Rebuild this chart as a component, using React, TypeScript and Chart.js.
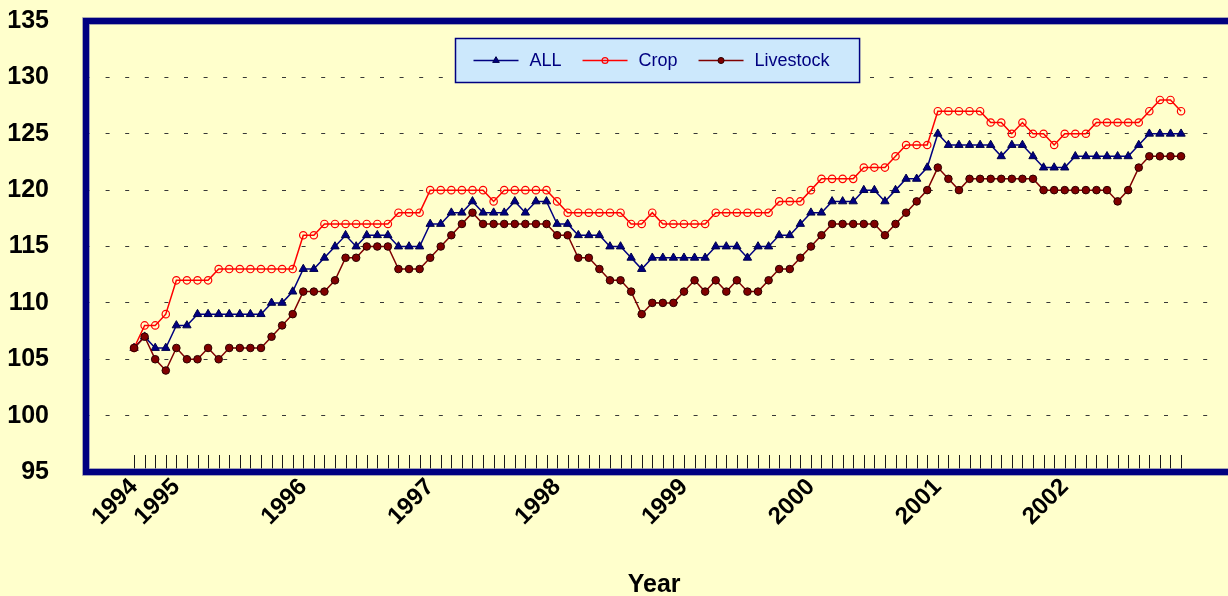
import React, { useEffect, useRef } from 'react';
import { Chart, registerables } from 'chart.js';
import { drawPoint } from 'chart.js/helpers';

Chart.register(...registerables);

// ---- data ----
const seriesNames = ['ALL', 'Crop', 'Livestock'];

const yearLabels = ['1994', '1995', '1996', '1997', '1998', '1999', '2000', '2001', '2002'];
// category (month) index where each year label sits
const yearTickAt = [0, 4, 16, 28, 40, 52, 64, 76, 88];

const yTickValues = [95, 100, 105, 110, 115, 120, 125, 130, 135];

const allValues = [
  106, 107, 106, 106, 108, 108, 109, 109, 109, 109,
  109, 109, 109, 110, 110, 111, 113, 113, 114, 115,
  116, 115, 116, 116, 116, 115, 115, 115, 117, 117,
  118, 118, 119, 118, 118, 118, 119, 118, 119, 119,
  117, 117, 116, 116, 116, 115, 115, 114, 113, 114,
  114, 114, 114, 114, 114, 115, 115, 115, 114, 115,
  115, 116, 116, 117, 118, 118, 119, 119, 119, 120,
  120, 119, 120, 121, 121, 122, 125, 124, 124, 124,
  124, 124, 123, 124, 124, 123, 122, 122, 122, 123,
  123, 123, 123, 123, 123, 124, 125, 125, 125, 125,
];

const cropValues = [
  106, 108, 108, 109, 112, 112, 112, 112, 113, 113,
  113, 113, 113, 113, 113, 113, 116, 116, 117, 117,
  117, 117, 117, 117, 117, 118, 118, 118, 120, 120,
  120, 120, 120, 120, 119, 120, 120, 120, 120, 120,
  119, 118, 118, 118, 118, 118, 118, 117, 117, 118,
  117, 117, 117, 117, 117, 118, 118, 118, 118, 118,
  118, 119, 119, 119, 120, 121, 121, 121, 121, 122,
  122, 122, 123, 124, 124, 124, 127, 127, 127, 127,
  127, 126, 126, 125, 126, 125, 125, 124, 125, 125,
  125, 126, 126, 126, 126, 126, 127, 128, 128, 127,
];

const livestockValues = [
  106, 107, 105, 104, 106, 105, 105, 106, 105, 106,
  106, 106, 106, 107, 108, 109, 111, 111, 111, 112,
  114, 114, 115, 115, 115, 113, 113, 113, 114, 115,
  116, 117, 118, 117, 117, 117, 117, 117, 117, 117,
  116, 116, 114, 114, 113, 112, 112, 111, 109, 110,
  110, 110, 111, 112, 111, 112, 111, 112, 111, 111,
  112, 113, 113, 114, 115, 116, 117, 117, 117, 117,
  117, 116, 117, 118, 119, 120, 122, 121, 120, 121,
  121, 121, 121, 121, 121, 121, 120, 120, 120, 120,
  120, 120, 120, 119, 120, 122, 123, 123, 123, 123,
];

// ---- styles ----
const FONT = '"Liberation Sans", Arial, Helvetica, sans-serif';
const BG = '#FFFFCC';
const NAVY = '#000080';
const LEGEND_FILL = '#CCE8FC';

const toPoints = (arr: number[]) => arr.map((v, i) => ({ x: i, y: v }));

const bgPlugin = {
  id: 'bgFill',
  beforeDraw(chart: any) {
    const { ctx, width, height } = chart;
    ctx.save();
    ctx.fillStyle = BG;
    ctx.fillRect(0, 0, width, height);
    ctx.restore();
  },
};

const framePlugin = {
  id: 'frame',
  beforeDatasetsDraw(chart: any) {
    const { ctx, chartArea } = chart;
    const { left, top, right, bottom } = chartArea;
    const xs = chart.scales.x;
    ctx.save();
    // inside tick marks along the category axis
    ctx.strokeStyle = '#1a1a1a';
    ctx.lineWidth = 1;
    ctx.beginPath();
    for (let i = 0; i < allValues.length; i++) {
      const px = Math.round(xs.getPixelForValue(i)) + 0.5;
      ctx.moveTo(px, bottom - 17);
      ctx.lineTo(px, bottom);
    }
    ctx.stroke();
    // plot area frame (left, top, bottom)
    ctx.lineJoin = 'miter';
    ctx.beginPath();
    ctx.moveTo(right + 20, top);
    ctx.lineTo(left, top);
    ctx.lineTo(left, bottom);
    ctx.lineTo(right + 20, bottom);
    ctx.strokeStyle = '#8a8aa8';
    ctx.lineWidth = 7.5;
    ctx.stroke();
    ctx.strokeStyle = NAVY;
    ctx.lineWidth = 6;
    ctx.stroke();
    ctx.restore();
  },
};

const legendPlugin = {
  id: 'boxLegend',
  afterDatasetsDraw(chart: any) {
    const { ctx, chartArea } = chart;
    const datasets = chart.data.datasets;
    ctx.save();
    ctx.font = `18px ${FONT}`;
    const lineLen = 45;
    const gapLineText = 11;
    const gapItems = 21;
    const padL = 18;
    const padR = 30;
    const boxH = 44;
    const items = datasets.map((ds: any) => ({ ds, w: ctx.measureText(ds.label).width }));
    const total =
      padL + padR +
      items.reduce((a: number, it: any) => a + lineLen + gapLineText + it.w, 0) +
      gapItems * (items.length - 1);
    const cx = (chartArea.left + chartArea.right) / 2 + 3;
    const left = Math.round(cx - total / 2) + 0.5;
    const top = Math.round(chartArea.top + 17) + 0.5;
    ctx.fillStyle = LEGEND_FILL;
    ctx.fillRect(left, top, total, boxH);
    ctx.strokeStyle = NAVY;
    ctx.lineWidth = 1.5;
    ctx.strokeRect(left, top, total, boxH);
    let x = left + padL;
    const y = top + boxH / 2;
    items.forEach(({ ds, w }: any) => {
      ctx.strokeStyle = ds.borderColor;
      ctx.lineWidth = ds.borderWidth;
      ctx.beginPath();
      ctx.moveTo(x, y);
      ctx.lineTo(x + lineLen, y);
      ctx.stroke();
      ctx.fillStyle = ds.pointBackgroundColor;
      ctx.strokeStyle = ds.pointBorderColor;
      ctx.lineWidth = ds.pointBorderWidth;
      drawPoint(ctx, {
        pointStyle: ds.pointStyle,
        rotation: 0,
        radius: ds.pointRadius * 0.8,
        borderWidth: ds.pointBorderWidth,
      } as any, x + lineLen / 2, y);
      ctx.fillStyle = NAVY;
      ctx.textBaseline = 'middle';
      ctx.textAlign = 'left';
      ctx.fillText(ds.label, x + lineLen + gapLineText, y + 1);
      x += lineLen + gapLineText + w + gapItems;
    });
    ctx.restore();
  },
};

export default function App() {
  const canvasRef = useRef<HTMLCanvasElement | null>(null);

  useEffect(() => {
    document.body.style.margin = '0';
    const canvas = canvasRef.current;
    if (!canvas) return;
    const tickFont = { family: FONT, size: 24, weight: 'bold' as const };
    const chart = new Chart(canvas, {
      type: 'line',
      data: {
        datasets: [
          {
            label: seriesNames[0],
            data: toPoints(allValues),
            borderColor: NAVY,
            backgroundColor: NAVY,
            borderWidth: 1.5,
            pointStyle: 'triangle',
            pointRadius: 4.8,
            pointBackgroundColor: NAVY,
            pointBorderColor: '#00004a',
            pointBorderWidth: 1,
            tension: 0,
            order: 2,
          },
          {
            label: seriesNames[1],
            data: toPoints(cropValues),
            borderColor: '#FF0000',
            backgroundColor: 'rgba(0,0,0,0)',
            borderWidth: 1.5,
            pointStyle: 'circle',
            pointRadius: 3.7,
            pointBackgroundColor: 'rgba(0,0,0,0)',
            pointBorderColor: '#FF0000',
            pointBorderWidth: 1.2,
            tension: 0,
            order: 1,
          },
          {
            label: seriesNames[2],
            data: toPoints(livestockValues),
            borderColor: '#800000',
            backgroundColor: '#800000',
            borderWidth: 1.5,
            pointStyle: 'circle',
            pointRadius: 3.8,
            pointBackgroundColor: '#800000',
            pointBorderColor: '#2a0000',
            pointBorderWidth: 1,
            tension: 0,
            order: 0,
          },
        ] as any,
      },
      options: {
        responsive: false,
        animation: false,
        events: [],
        layout: { padding: { top: 21, left: 0, right: 0, bottom: 0 } },
        plugins: {
          legend: { display: false },
          tooltip: { enabled: false },
        },
        scales: {
          x: {
            type: 'linear',
            min: -4.544,
            max: 102.89,
            grid: { display: false },
            border: { display: false },
            afterBuildTicks: (scale: any) => {
              scale.ticks = yearTickAt.map((v) => ({ value: v }));
            },
            afterFit: (scale: any) => {
              scale.height = 124;
              scale.paddingLeft = 0;
              scale.paddingRight = 0;
            },
            ticks: {
              autoSkip: false,
              minRotation: 45,
              maxRotation: 45,
              padding: -7,
              color: '#000',
              font: tickFont,
              callback: (_v: any, i: number) => yearLabels[i],
            },
            title: {
              display: true,
              text: 'Year',
              color: '#000',
              font: { family: FONT, size: 25, weight: 'bold', lineHeight: 1 },
              padding: { top: 0, bottom: -2 },
            },
          },
          y: {
            type: 'linear',
            min: yTickValues[0],
            max: yTickValues[yTickValues.length - 1],
            afterFit: (scale: any) => {
              scale.width = 86;
              scale.paddingTop = 10;
              scale.paddingBottom = 10;
            },
            ticks: {
              stepSize: yTickValues[1] - yTickValues[0],
              padding: 37,
              color: '#000',
              font: { family: FONT, size: 25, weight: 'bold' },
            },
            grid: { color: '#383838', lineWidth: 1, drawTicks: false },
            border: { display: false, dash: [4, 15.6] },
          },
        },
      } as any,
      plugins: [bgPlugin, framePlugin, legendPlugin],
    });
    return () => chart.destroy();
  }, []);

  return (
    <div style={{ width: 1228, height: 596, background: BG }}>
      <canvas ref={canvasRef} width={1228} height={596} style={{ display: 'block' }} />
    </div>
  );
}
